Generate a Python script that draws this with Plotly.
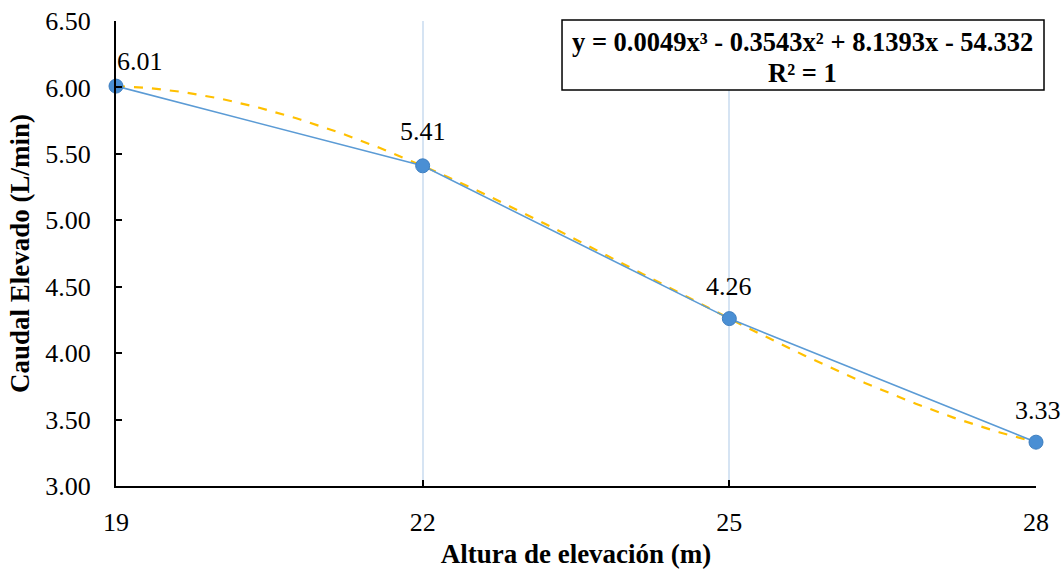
import numpy as np
import plotly.graph_objects as go

# Altura de elevación (m) y caudal medido (L/min)
altura = [19, 22, 25, 28]
caudal = [6.01, 5.41, 4.26, 3.33]
etiquetas = ["6.01", "5.41", "4.26", "3.33"]

y_ticks = [3.00, 3.50, 4.00, 4.50, 5.00, 5.50, 6.00, 6.50]
y_tick_text = [f"{v:.2f}" for v in y_ticks]

ecuacion = "y = 0.0049x³ - 0.3543x² + 8.1393x - 54.332"
r2 = "R² = 1"

# Tendencia polinómica de grado 3 ajustada a los datos
coef = np.polyfit(altura, caudal, 3)
x_fit = np.linspace(min(altura), max(altura), 200)
y_fit = np.polyval(coef, x_fit)

FONT = "Liberation Serif, Times New Roman, serif"

fig = go.Figure()

fig.add_trace(go.Scatter(
    x=x_fit, y=y_fit, mode="lines",
    line=dict(color="#FFC000", width=2.2, dash="dash"),
    hoverinfo="skip", showlegend=False, cliponaxis=False,
))

fig.add_trace(go.Scatter(
    x=altura, y=caudal, mode="lines+markers",
    line=dict(color="#5B9BD5", width=1.6),
    marker=dict(size=14, color="#4A8FD4", line=dict(color="#3F7FC0", width=1)),
    showlegend=False, cliponaxis=False,
))

# Etiquetas de datos sobre cada punto
desplaz_x = [24, 0, 0, 2]
desplaz_y = [25, 34, 32, 32]
for xv, yv, txt, dx, dy in zip(altura, caudal, etiquetas, desplaz_x, desplaz_y):
    fig.add_annotation(
        x=xv, y=yv, text=txt, showarrow=False,
        xanchor="center", yanchor="middle", xshift=dx, yshift=dy,
        font=dict(family=FONT, size=26, color="#000000"),
    )

# Recuadro con la ecuación de la línea de tendencia
fig.add_shape(
    type="rect", xref="paper", yref="paper",
    x0=0.4848, x1=1.0087, y0=0.8516, y1=1.0022,
    line=dict(color="#000000", width=1.5), fillcolor="#FFFFFF", layer="above",
)
for texto, yp in [(ecuacion, 0.9548), (r2, 0.8882)]:
    fig.add_annotation(
        xref="paper", yref="paper", x=0.7467, y=yp,
        xanchor="center", yanchor="middle",
        text=f"<b>{texto}</b>", showarrow=False,
        font=dict(family=FONT, size=26.5, color="#000000"),
    )

fig.update_layout(
    width=1064, height=569,
    margin=dict(l=116, r=28, t=21, b=83),
    paper_bgcolor="#FFFFFF", plot_bgcolor="#FFFFFF",
    font=dict(family=FONT, size=26, color="#000000"),
    xaxis=dict(
        range=[19, 28], tickvals=altura, ticktext=[str(a) for a in altura],
        showgrid=True, gridcolor="#D6E4F3", gridwidth=1.5,
        showline=True, linecolor="#000000", linewidth=2,
        ticks="inside", ticklen=6, tickcolor="#000000", tickwidth=2,
        ticklabelstandoff=12, automargin=False,
        zeroline=False,
        title=dict(text="<b>Altura de elevación (m)</b>", font=dict(family=FONT, size=27), standoff=10),
        tickfont=dict(family=FONT, size=26),
    ),
    yaxis=dict(
        range=[3.0, 6.5], tickvals=y_ticks, ticktext=y_tick_text,
        showgrid=False,
        showline=True, linecolor="#000000", linewidth=2,
        ticks="inside", ticklen=6, tickcolor="#000000", tickwidth=2,
        ticklabelstandoff=18, automargin=False,
        zeroline=False,
        title=dict(text="<b>Caudal Elevado (L/min)</b>", font=dict(family=FONT, size=27), standoff=8),
        tickfont=dict(family=FONT, size=26),
    ),
)

fig.write_html("out.html")
